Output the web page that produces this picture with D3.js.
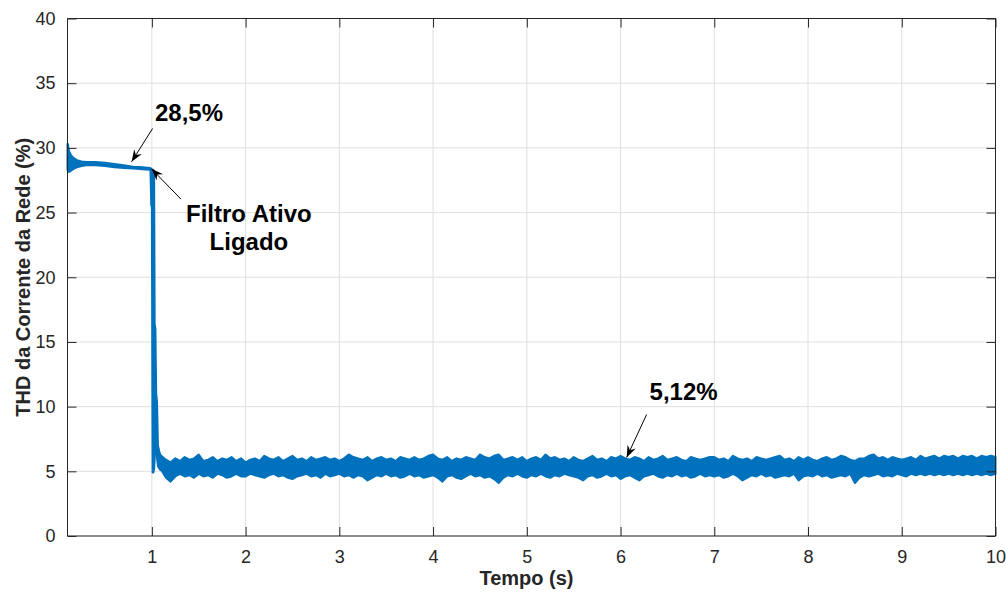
<!DOCTYPE html>
<html>
<head>
<meta charset="utf-8">
<script src="https://cdn.jsdelivr.net/npm/d3@7/dist/d3.min.js"></script>
<style>
  body { margin: 0; background: #fff; }
  svg { font-family: "Liberation Sans", Arial, Helvetica, sans-serif; }
</style>
</head>
<body>
<svg id="chart"></svg>
<script>
// ---- data (THD trace, upper/lower edge) ----
const tStart = [0.1, 0.105, 0.11, 0.12, 0.14, 0.17, 0.2, 0.25, 0.3, 0.4, 0.5, 0.6, 0.7, 0.8, 0.9, 0.98];
const upStart = [30.3, 30.3, 30.0, 29.7, 29.4, 29.2, 29.05, 28.95, 28.9, 28.9, 28.85, 28.75, 28.65, 28.55, 28.5, 28.45];
const loStart = [28.3, 28.2, 28.15, 28.15, 28.25, 28.4, 28.5, 28.6, 28.65, 28.65, 28.6, 28.5, 28.45, 28.4, 28.35, 28.3];

const tDrop = [0.985, 0.993, 1.0, 1.008, 1.016, 1.024, 1.03, 1.038, 1.046, 1.055, 1.065, 1.08, 1.09];
const upDrop = [28.4, 28.4, 28.35, 28.3, 28.3, 28.1, 16.4, 16.0, 11.0, 10.4, 7.0, 6.5, 6.3];
const loDrop = [28.3, 25.6, 25.4, 4.9, 4.9, 5.2, 6.0, 8.5, 7.0, 6.0, 5.4, 5.2, 5.1];

const tSteady = [1.10, 1.15, 1.20, 1.25, 1.30, 1.35, 1.40, 1.45, 1.50, 1.55, 1.60, 1.65, 1.70, 1.75, 1.80, 1.85, 1.90, 1.95,
  2.00, 2.05, 2.10, 2.15, 2.20, 2.25, 2.30, 2.35, 2.40, 2.45, 2.50, 2.55, 2.60, 2.65, 2.70, 2.75, 2.80, 2.85, 2.90, 2.95,
  3.00, 3.05, 3.10, 3.15, 3.20, 3.25, 3.30, 3.35, 3.40, 3.45, 3.50, 3.55, 3.60, 3.65, 3.70, 3.75, 3.80, 3.85, 3.90, 3.95,
  4.00, 4.05, 4.10, 4.15, 4.20, 4.25, 4.30, 4.35, 4.40, 4.45, 4.50, 4.55, 4.60, 4.65, 4.70, 4.75, 4.80, 4.85, 4.90, 4.95,
  5.00, 5.05, 5.10, 5.15, 5.20, 5.25, 5.30, 5.35, 5.40, 5.45, 5.50, 5.55, 5.60, 5.65, 5.70, 5.75, 5.80, 5.85, 5.90, 5.95,
  6.00, 6.05, 6.10, 6.15, 6.20, 6.25, 6.30, 6.35, 6.40, 6.45, 6.50, 6.55, 6.60, 6.65, 6.70, 6.75, 6.80, 6.85, 6.90, 6.95,
  7.00, 7.05, 7.10, 7.15, 7.20, 7.25, 7.30, 7.35, 7.40, 7.45, 7.50, 7.55, 7.60, 7.65, 7.70, 7.75, 7.80, 7.85, 7.90, 7.95,
  8.00, 8.05, 8.10, 8.15, 8.20, 8.25, 8.30, 8.35, 8.40, 8.45, 8.50, 8.55, 8.60, 8.65, 8.70, 8.75, 8.80, 8.85, 8.90, 8.95,
  9.00, 9.05, 9.10, 9.15, 9.20, 9.25, 9.30, 9.35, 9.40, 9.45, 9.50, 9.55, 9.60, 9.65, 9.70, 9.75, 9.80, 9.85, 9.90, 9.95,
  10.00];
const upSteady = [6.2, 5.9, 5.7, 6.0, 5.8, 6.1, 5.9, 6.0, 6.3, 5.8, 5.9, 6.1, 5.8, 6.0, 5.9, 6.1, 5.8, 6.0,
  5.7, 5.9, 6.0, 5.8, 6.2, 6.0, 5.9, 6.1, 5.8, 6.0, 6.2, 5.9, 6.0, 5.8, 6.1, 5.9, 6.0, 6.1, 5.9, 6.0,
  5.8, 6.0, 6.3, 6.1, 6.0, 5.9, 6.1, 5.8, 6.0, 6.1, 5.9, 6.0, 5.8, 6.1, 6.0, 5.9, 6.1, 5.9, 6.0, 6.2,
  6.3, 6.0, 5.9, 6.1, 5.8, 6.0, 5.9, 6.1, 6.0, 5.9, 6.3, 6.1, 6.0, 6.2, 6.3, 5.9, 6.0, 6.1, 5.9, 6.1,
  5.8, 6.0, 6.1, 5.9, 6.3, 6.0, 6.1, 5.9, 6.0, 5.8, 6.1, 5.9, 5.8, 6.0, 6.2, 5.9, 6.0, 5.8, 6.1, 6.0,
  6.2, 6.0, 5.9, 6.1, 6.0, 5.8, 6.1, 5.9, 6.0, 6.2, 5.9, 6.0, 6.1, 5.9, 5.8, 6.1, 6.0, 5.9, 6.0, 6.1,
  6.1, 5.9, 6.0, 5.8, 6.2, 6.0, 5.9, 6.0, 5.8, 6.1, 6.0, 5.9, 6.0, 6.1, 6.2, 5.9, 6.0, 5.8, 6.1, 5.9,
  6.1, 5.9, 5.8, 6.0, 6.1, 5.9, 6.0, 6.2, 6.1, 5.9, 5.8, 6.0, 6.0, 6.2, 6.3, 6.0, 6.1, 5.9, 6.1, 6.0,
  5.9, 6.0, 6.1, 5.9, 6.2, 6.0, 6.1, 6.2, 6.0, 6.2, 6.1, 6.2, 6.0, 6.2, 6.1, 6.2, 6.0, 6.2, 6.1, 6.2,
  6.1];
const loSteady = [5.1, 4.5, 4.2, 4.6, 4.8, 4.6, 4.7, 4.5, 4.8, 4.6, 4.7, 4.5, 4.8, 4.7, 4.5, 4.6, 4.8, 4.6,
  4.6, 4.8, 4.7, 4.6, 4.5, 4.7, 4.8, 4.6, 4.7, 4.5, 4.4, 4.6, 4.7, 4.8, 4.6, 4.7, 4.5, 4.8, 4.6, 4.7,
  4.8, 4.6, 4.7, 4.5, 4.7, 4.6, 4.3, 4.5, 4.7, 4.6, 4.8, 4.6, 4.7, 4.5, 4.6, 4.8, 4.6, 4.7, 4.5, 4.6,
  4.7, 4.5, 4.2, 4.6, 4.7, 4.5, 4.4, 4.6, 4.8, 4.6, 4.7, 4.5, 4.6, 4.4, 4.1, 4.5, 4.7, 4.6, 4.8, 4.6,
  4.5, 4.7, 4.6, 4.8, 4.6, 4.5, 4.7, 4.6, 4.8, 4.7, 4.6, 4.5, 4.3, 4.6, 4.7, 4.5, 4.6, 4.8, 4.6, 4.7,
  4.4, 4.6, 4.7, 4.5, 4.3, 4.6, 4.7, 4.8, 4.6, 4.5, 4.7, 4.6, 4.8, 4.6, 4.7, 4.5, 4.6, 4.8, 4.6, 4.7,
  4.6, 4.7, 4.5, 4.6, 4.8, 4.6, 4.3, 4.5, 4.7, 4.6, 4.8, 4.6, 4.7, 4.5, 4.6, 4.7, 4.6, 4.8, 4.3, 4.6,
  4.7, 4.6, 4.8, 4.6, 4.7, 4.5, 4.6, 4.7, 4.6, 4.8, 4.1, 4.5, 4.7, 4.6, 4.7, 4.8, 4.6, 4.7, 4.6, 4.8,
  4.7, 4.6, 4.8, 4.7, 4.8, 4.7, 4.8, 4.7, 4.8, 4.7, 4.8, 4.7, 4.8, 4.7, 4.8, 4.7, 4.8, 4.7, 4.8, 4.7,
  4.8];

const xTicks = [1, 2, 3, 4, 5, 6, 7, 8, 9, 10];
const yTicks = [0, 5, 10, 15, 20, 25, 30, 35, 40];

// annotations, in data coordinates
const notes = [
  {lines: ['28,5%'], tx: 1.033, ty: 32.07, anchor: 'start', from: [1.008, 31.5], to: [0.784, 28.93]},
  {lines: ['Filtro Ativo', 'Ligado'], tx: 2.035, ty: 24.27, anchor: 'middle', from: [1.31, 26.04], to: [0.996, 28.38]},
  {lines: ['5,12%'], tx: 6.31, ty: 10.51, anchor: 'start', from: [6.278, 9.39], to: [6.065, 6.07]}
];

// ---- layout ----
const width = 1006, height = 592;
const margin = {top: 18.5, right: 10.5, bottom: 56, left: 67.5};
const innerWidth = width - margin.left - margin.right;
const innerHeight = height - margin.top - margin.bottom;
const blue = '#0072BD';
const axisColor = '#262626';

const svg = d3.select('#chart').attr('width', width).attr('height', height);

const x = d3.scaleLinear().domain([0.1, 10]).range([0, innerWidth]);
const y = d3.scaleLinear().domain([0, 40]).range([innerHeight, 0]);

const g = svg.append('g').attr('transform', `translate(${margin.left},${margin.top})`);

// grid
g.append('g').selectAll('line').data(xTicks).enter().append('line')
  .attr('x1', d => x(d)).attr('x2', d => x(d))
  .attr('y1', 0).attr('y2', innerHeight)
  .attr('stroke', '#dfdfdf').attr('stroke-width', 1);
g.append('g').selectAll('line').data(yTicks).enter().append('line')
  .attr('y1', d => y(d)).attr('y2', d => y(d))
  .attr('x1', 0).attr('x2', innerWidth)
  .attr('stroke', '#dfdfdf').attr('stroke-width', 1);

// signal
const pts = [];
[[tStart, upStart, loStart], [tDrop, upDrop, loDrop], [tSteady, upSteady, loSteady]].forEach(([t, u, l]) => {
  t.forEach((v, i) => pts.push({t: v, u: u[i], l: l[i]}));
});
const area = d3.area()
  .x(d => x(d.t))
  .y0(d => y(d.l))
  .y1(d => y(d.u));
g.append('path')
  .datum(pts)
  .attr('d', area)
  .attr('fill', blue)
  .attr('stroke', blue)
  .attr('stroke-width', 2)
  .attr('stroke-linejoin', 'round');

// axes (box with inward ticks)
const tickLen = 9;
const xAxis = d3.axisBottom(x).tickValues(xTicks).tickSize(-tickLen).tickPadding(14).tickFormat(d3.format('d'));
const yAxis = d3.axisLeft(y).tickValues(yTicks).tickSize(-tickLen).tickPadding(12).tickFormat(d3.format('d'));
const xTop = d3.axisTop(x).tickValues(xTicks).tickSize(-tickLen).tickFormat('');
const yRight = d3.axisRight(y).tickValues(yTicks).tickSize(-tickLen).tickFormat('');

function styleAxis(sel) {
  sel.attr('font-size', 18).attr('font-family', '"Liberation Sans", Arial, sans-serif');
  sel.selectAll('path.domain').attr('stroke', axisColor).attr('stroke-width', 1);
  sel.selectAll('.tick line').attr('stroke', axisColor).attr('stroke-width', 1);
  sel.selectAll('.tick text').attr('fill', axisColor).style('font-size', '18px');
}

g.append('g').attr('transform', `translate(0,${innerHeight})`).call(xAxis).call(styleAxis)
  .call(s => s.select('path.domain').attr('d', `M0,0H${innerWidth}`));
g.append('g').call(xTop).call(styleAxis)
  .call(s => s.select('path.domain').attr('d', `M0,0H${innerWidth}`));
g.append('g').call(yAxis).call(styleAxis)
  .call(s => s.select('path.domain').attr('d', `M0,0V${innerHeight}`));
g.append('g').attr('transform', `translate(${innerWidth},0)`).call(yRight).call(styleAxis)
  .call(s => s.select('path.domain').attr('d', `M0,0V${innerHeight}`));

// axis labels
svg.append('text')
  .attr('x', margin.left + innerWidth / 2 - 5)
  .attr('y', 585)
  .attr('text-anchor', 'middle')
  .attr('fill', axisColor)
  .style('font-size', '20px').style('font-weight', 'bold')
  .text('Tempo (s)');
svg.append('text')
  .attr('transform', `translate(30,${margin.top + innerHeight / 2}) rotate(-90)`)
  .attr('text-anchor', 'middle')
  .attr('fill', axisColor)
  .style('font-size', '20px').style('font-weight', 'bold')
  .text('THD da Corrente da Rede (%)');

// arrowhead marker
svg.append('defs').append('marker')
  .attr('id', 'head')
  .attr('viewBox', '-12 -6 14 12')
  .attr('refX', 0).attr('refY', 0)
  .attr('markerWidth', 14).attr('markerHeight', 12)
  .attr('markerUnits', 'userSpaceOnUse')
  .attr('orient', 'auto')
  .append('path')
  .attr('d', 'M0,0L-12,-4.5L-8,0L-12,4.5Z')
  .attr('fill', '#000');

// annotations
notes.forEach(n => {
  g.append('line')
    .attr('x1', x(n.from[0])).attr('y1', y(n.from[1]))
    .attr('x2', x(n.to[0])).attr('y2', y(n.to[1]))
    .attr('stroke', '#000').attr('stroke-width', 1)
    .attr('marker-end', 'url(#head)');
  const txt = g.append('text')
    .attr('x', x(n.tx)).attr('y', y(n.ty))
    .attr('text-anchor', n.anchor)
    .attr('fill', '#000')
    .style('font-size', '24px').style('font-weight', 'bold');
  n.lines.forEach((l, i) => {
    txt.append('tspan').attr('x', x(n.tx)).attr('dy', i === 0 ? 0 : 28).text(l);
  });
});
</script>
</body>
</html>
